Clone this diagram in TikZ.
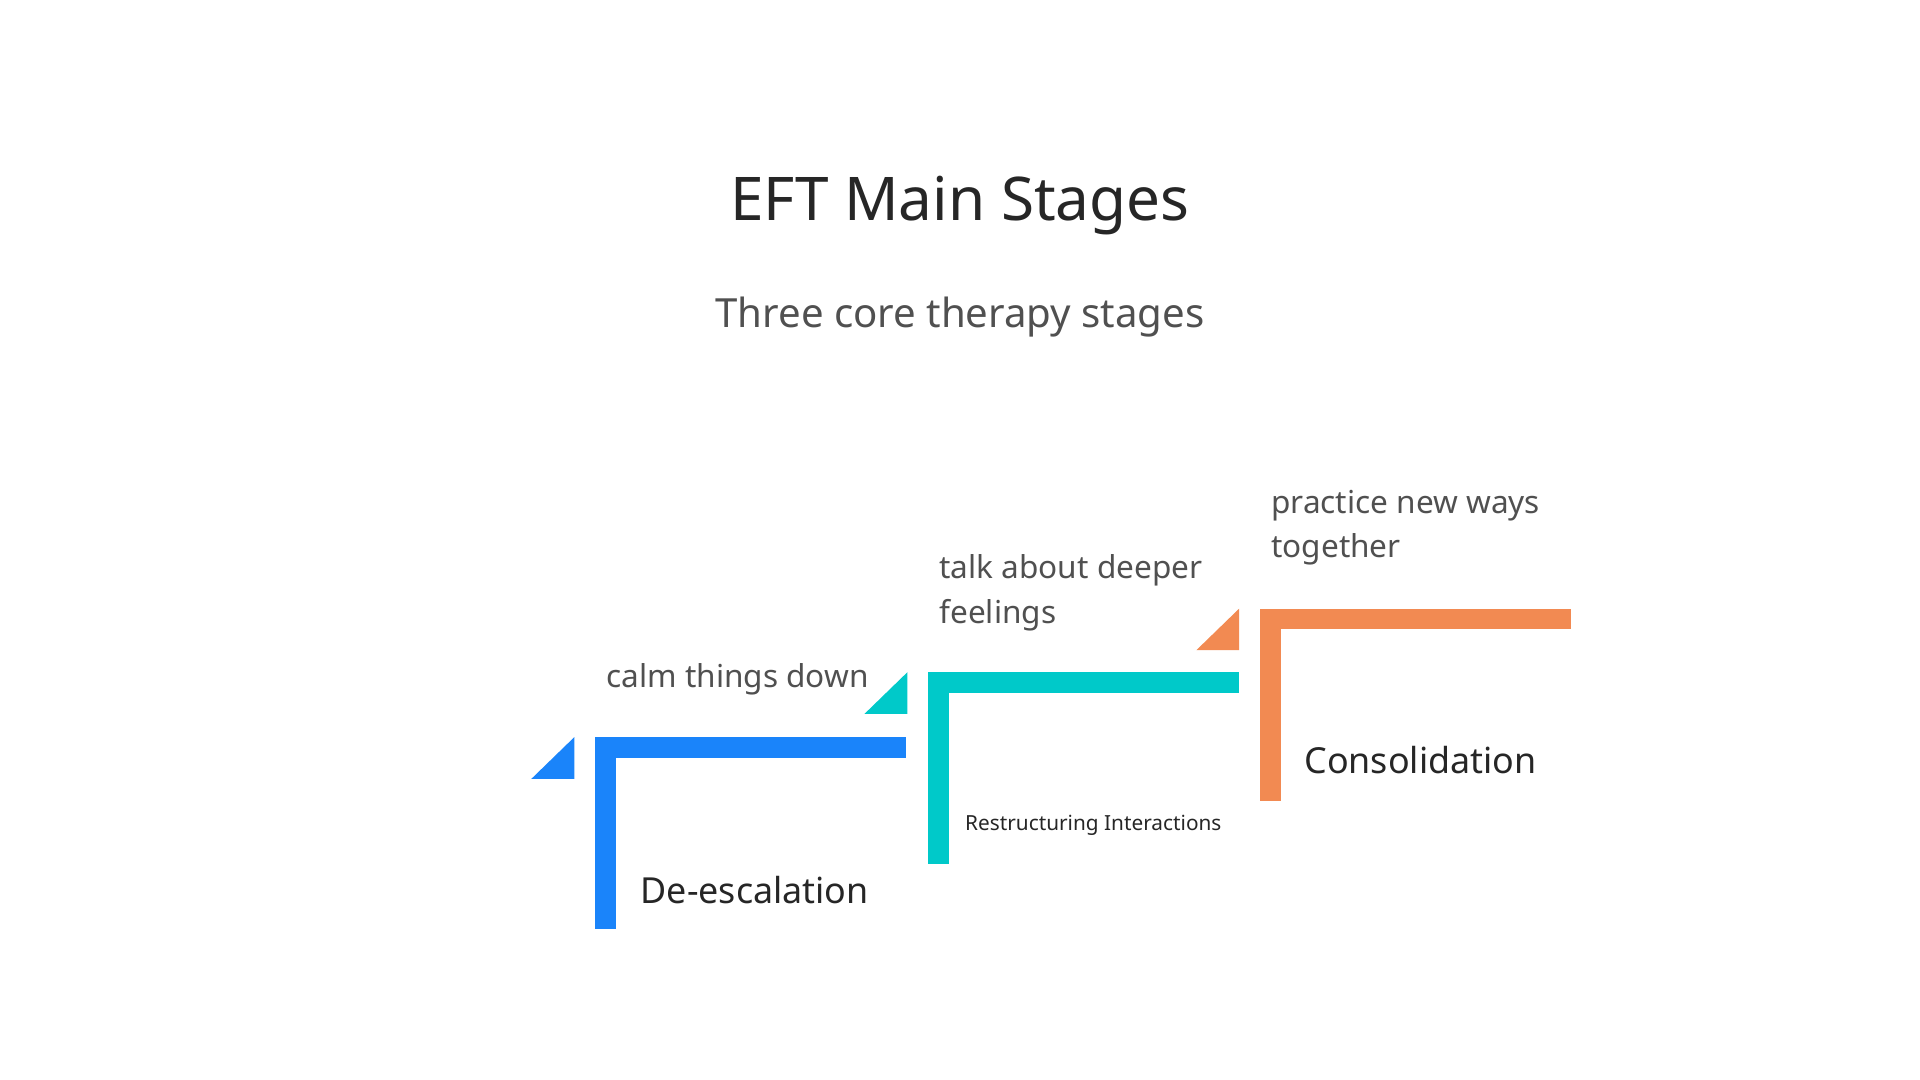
\documentclass[tikz,border=0pt]{standalone}
\usepackage{fontspec}
\setmainfont{Noto Sans}
\begin{document}
\begin{tikzpicture}[x=0.3mm,y=-0.3mm]
% Styles
\definecolor{bleu}{HTML}{1A84FA}
\definecolor{turquoise}{HTML}{00C9C9}
\definecolor{orange}{HTML}{F28A52}
\definecolor{texte}{HTML}{505050}
\tikzstyle{titre}=[text=black!85,font=\fontsize{42}{48}\selectfont]
\tikzstyle{soustitre}=[text=texte,font=\fontsize{28}{34}\selectfont]
\tikzstyle{note}=[text=texte,font=\fontsize{22}{31}\selectfont,align=left,anchor=west,inner sep=0pt]
\tikzstyle{etape}=[text=black!85,font=\bfseries\fontsize{25}{30}\selectfont,anchor=west,inner sep=0pt]
% Cadre
\useasboundingbox (0,0) rectangle (1568,882);
% Titres
\node[titre] (T) at (784,168) {EFT Main Stages};
\node[soustitre] (ST) at (784,259) {Three core therapy stages};
% Marches (x, y, couleur)
\foreach \x/\y/\c in {486/602/bleu,758/549/turquoise,1029/497/orange}{
  \fill[\c] (\x,\y) rectangle (\x+17,\y+157);
  \fill[\c] (\x,\y) rectangle (\x+254,\y+17);
  \fill[\c] (\x-52,\y+34) -- (\x-17,\y+34) -- (\x-17,\y) -- cycle;
}
% Textes
\node[note] (Na) at (495,555) {calm things down};
\node[note] (Nb) at (767,484) {talk about deeper\\feelings};
\node[note] (Nc) at (1038,431) {practice new ways\\together};
\node[etape] (Ea) at (523,727) {De-escalation};
\node[etape,font=\bfseries\fontsize{14.5}{18}\selectfont] (Eb) at (788,674) {Restructuring Interactions};
\node[etape] (Ec) at (1065,621) {Consolidation};
\end{tikzpicture}
\end{document}
